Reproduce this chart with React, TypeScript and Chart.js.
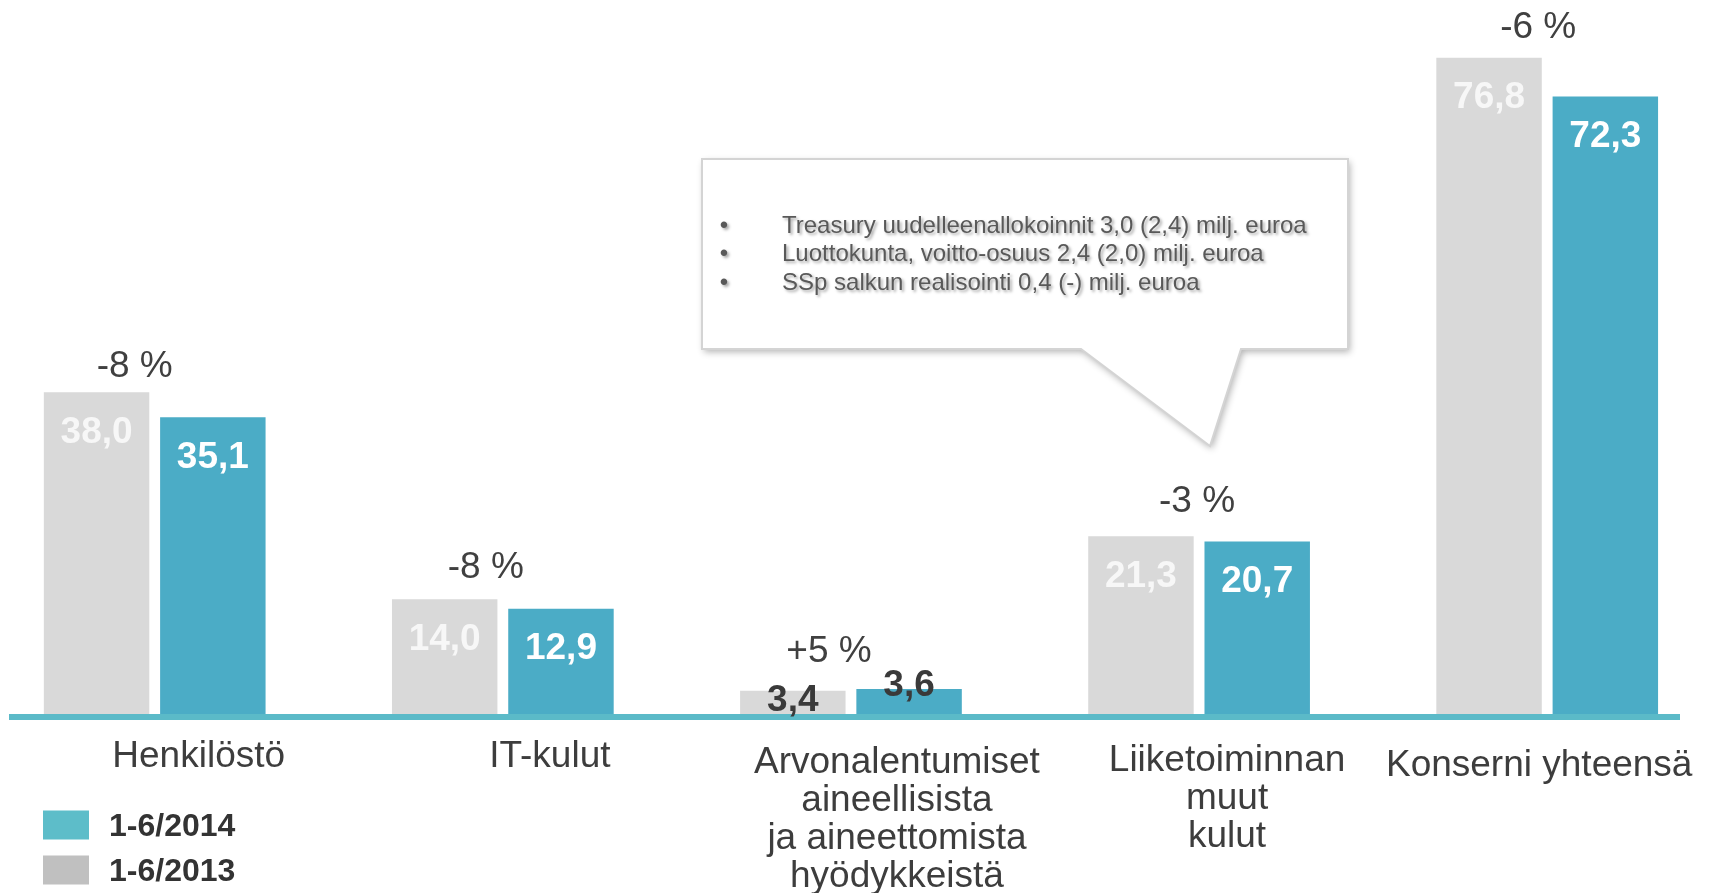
import React, { useEffect, useRef } from 'react';
import { Chart, registerables } from 'chart.js';

Chart.register(...registerables);

// ---- data ----
const categories: (string | string[])[] = [
  'Henkilöstö',
  'IT-kulut',
  ['Arvonalentumiset', 'aineellisista', 'ja aineettomista', 'hyödykkeistä'],
  ['Liiketoiminnan', 'muut', 'kulut'],
  'Konserni yhteensä',
];
const seriesLabels = ['1-6/2013', '1-6/2014'];
const values2013 = [38.0, 14.0, 3.4, 21.3, 76.8];
const values2014 = [35.1, 12.9, 3.6, 20.7, 72.3];
const changeLabels = ['-8 %', '-8 %', '+5 %', '-3 %', '-6 %'];
const calloutLines = [
  'Treasury uudelleenallokoinnit 3,0 (2,4) milj. euroa',
  'Luottokunta, voitto-osuus 2,4 (2,0) milj. euroa',
  'SSp salkun realisointi 0,4 (-) milj. euroa',
];

// ---- styles ----
const FONT = '"Liberation Sans", Arial, sans-serif';
const barColors = ['#D9D9D9', '#4BACC6'];
const legendColors = ['#C0C0C0', '#5DBDC9'];
const axisColor = '#5BBAC8';
const textDark = '#3d3d3d';

// label layout tweaks (pixels, relative to the scale positions)
const pctDX = [-20, -17, -22, -2, -9];
const pctDY = [-26, -31, -37, -35, -30];
const catDX = [44, 47, 46, 28, -8];
const catY = [757, 757, 763, 761, 766];

const fmt = (v: number) => v.toFixed(1).replace('.', ',');

const overlayPlugin = {
  id: 'overlay',
  afterDatasetsDraw(chart: any) {
    const ctx: CanvasRenderingContext2D = chart.ctx;
    const xs = chart.scales.x;
    const area = chart.chartArea;
    ctx.save();

    // axis line
    ctx.fillStyle = axisColor;
    ctx.fillRect(9, area.bottom - 6, 1671, 6);

    // value labels
    ctx.textAlign = 'center';
    ctx.textBaseline = 'middle';
    ctx.font = `bold 37px ${FONT}`;
    chart.data.datasets.forEach((ds: any, d: number) => {
      const meta = chart.getDatasetMeta(d);
      meta.data.forEach((el: any, i: number) => {
        const v = ds.data[i];
        const h = el.base - el.y;
        if (h > 60) {
          ctx.fillStyle = d === 0 ? '#F7F7F7' : '#FFFFFF';
          ctx.fillText(fmt(v), el.x, el.y + 40.5);
        } else {
          ctx.fillStyle = '#3a3a3a';
          ctx.fillText(fmt(v), el.x, el.base - (d === 0 ? 19 : 34));
        }
      });
    });

    // change labels
    ctx.font = `37px ${FONT}`;
    ctx.fillStyle = '#404040';
    changeLabels.forEach((t, i) => {
      const m0 = chart.getDatasetMeta(0).data[i];
      const m1 = chart.getDatasetMeta(1).data[i];
      const top = Math.min(m0.y, m1.y);
      ctx.fillText(t, xs.getPixelForValue(i) + pctDX[i], top + pctDY[i]);
    });

    // category labels
    ctx.fillStyle = textDark;
    categories.forEach((c, i) => {
      const lines = Array.isArray(c) ? c : [c];
      const cx = xs.getPixelForValue(i) + catDX[i];
      lines.forEach((ln, k) => {
        ctx.fillText(ln, cx, catY[i] + k * 38);
      });
    });

    // legend (2014 first)
    ctx.textAlign = 'left';
    ctx.font = `bold 32px ${FONT}`;
    const order = [1, 0];
    order.forEach((d, k) => {
      const cy = 825 + k * 45;
      ctx.fillStyle = legendColors[d];
      ctx.fillRect(43, cy - 14.5, 46, 29);
      ctx.fillStyle = '#333333';
      ctx.fillText(chart.data.datasets[d].label, 109, cy + 2);
    });

    // callout
    const L = 702, T = 159, R = 1348, B = 349;
    ctx.beginPath();
    ctx.moveTo(L, T);
    ctx.lineTo(R, T);
    ctx.lineTo(R, B);
    ctx.lineTo(1241, B);
    ctx.lineTo(1210, 446);
    ctx.lineTo(1081, B);
    ctx.lineTo(L, B);
    ctx.closePath();
    ctx.save();
    ctx.shadowColor = 'rgba(0,0,0,0.30)';
    ctx.shadowBlur = 7;
    ctx.shadowOffsetX = 2;
    ctx.shadowOffsetY = 3;
    ctx.fillStyle = '#FFFFFF';
    ctx.fill();
    ctx.restore();
    ctx.strokeStyle = '#D4D4D4';
    ctx.lineWidth = 2;
    ctx.stroke();

    ctx.save();
    ctx.font = `24px ${FONT}`;
    ctx.fillStyle = '#595959';
    ctx.shadowColor = 'rgba(0,0,0,0.35)';
    ctx.shadowBlur = 3;
    ctx.shadowOffsetX = 2;
    ctx.shadowOffsetY = 2;
    ctx.textBaseline = 'middle';
    calloutLines.forEach((ln, k) => {
      const cy = 226 + k * 28.8;
      ctx.textAlign = 'center';
      ctx.fillText('•', 724, cy);
      ctx.textAlign = 'left';
      ctx.fillText(ln, 782, cy);
    });
    ctx.restore();

    ctx.restore();
  },
};

export default function App() {
  const canvasRef = useRef<HTMLCanvasElement | null>(null);

  useEffect(() => {
    if (!canvasRef.current) return;
    const chart = new Chart(canvasRef.current, {
      type: 'bar',
      data: {
        labels: categories as any,
        datasets: [
          {
            label: seriesLabels[0],
            data: values2013,
            backgroundColor: barColors[0],
            categoryPercentage: 0.668,
            barPercentage: 0.907,
            clip: false,
          } as any,
          {
            label: seriesLabels[1],
            data: values2014,
            backgroundColor: barColors[1],
            categoryPercentage: 0.668,
            barPercentage: 0.907,
            clip: false,
          } as any,
        ],
      },
      options: {
        animation: false,
        responsive: false,
        devicePixelRatio: 1,
        layout: { padding: { left: 154.7, right: 164.8, top: 0, bottom: 173 } },
        scales: {
          x: { type: 'category', display: false, offset: false, grid: { display: false } },
          y: { display: false, min: 0, max: 83.5 },
        },
        plugins: {
          legend: { display: false },
          tooltip: { enabled: false },
        },
      },
      plugins: [overlayPlugin],
    });
    return () => chart.destroy();
  }, []);

  return (
    <div style={{ position: 'fixed', left: 0, top: 0, width: 1712, height: 893, background: '#fff' }}>
      <canvas ref={canvasRef} width={1712} height={893} style={{ display: 'block' }} />
    </div>
  );
}
